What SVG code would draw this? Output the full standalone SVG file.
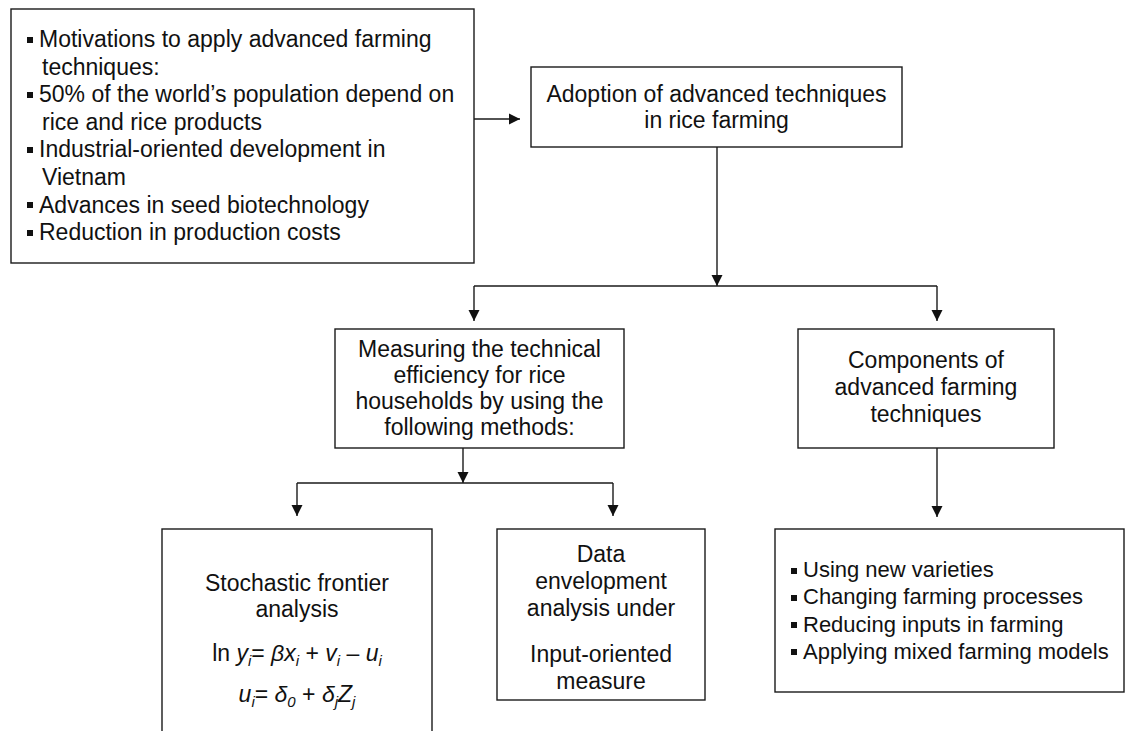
<svg xmlns="http://www.w3.org/2000/svg" width="1132" height="731" viewBox="0 0 1132 731">
<style>
  .box { fill: #ffffff; stroke: #1a1a1a; stroke-width: 1.4; }
  .t { font-family: "Liberation Sans", Arial, sans-serif; font-size: 23px; fill: #111111; }
  .c { text-anchor: middle; }
  .s { font-size: 22px; }
  .i { font-style: italic; }
  .sub { font-size: 15px; font-style: italic; }
  .con { fill: none; stroke: #1a1a1a; stroke-width: 1.4; }
  .blt { fill: #111111; }
</style>
<defs>
  <marker id="ah" markerUnits="userSpaceOnUse" markerWidth="12" markerHeight="12" viewBox="0 0 12 12" refX="11" refY="6" orient="auto">
    <path d="M0,0.5 L11,6 L0,11.5 Z" fill="#111111"/>
  </marker>
</defs>
<rect width="1132" height="731" fill="#ffffff"/>

<g id="motivations">
  <rect class="box" x="11" y="9" width="463" height="254"/>
  <rect class="blt" x="27" y="37" width="6" height="6"/>
  <text class="t" x="39" y="47">Motivations to apply advanced farming</text>
  <text class="t" x="42" y="74.6">techniques:</text>
  <rect class="blt" x="27" y="92" width="6" height="6"/>
  <text class="t" x="39" y="102.2">50% of the world’s population depend on</text>
  <text class="t" x="42" y="129.8">rice and rice products</text>
  <rect class="blt" x="27" y="147" width="6" height="6"/>
  <text class="t" x="39" y="157.4">Industrial-oriented development in</text>
  <text class="t" x="42" y="185">Vietnam</text>
  <rect class="blt" x="27" y="202" width="6" height="6"/>
  <text class="t" x="39" y="212.6">Advances in seed biotechnology</text>
  <rect class="blt" x="27" y="230" width="6" height="6"/>
  <text class="t" x="39" y="240.2">Reduction in production costs</text>
</g>

<g id="adoption">
  <rect class="box" x="531" y="67" width="371" height="80"/>
  <text class="t c" x="716.5" y="102">Adoption of advanced techniques</text>
  <text class="t c" x="716.5" y="128">in rice farming</text>
</g>

<g id="measuring">
  <rect class="box" x="335" y="329" width="289" height="119"/>
  <text class="t c" x="479.5" y="357">Measuring the technical</text>
  <text class="t c" x="479.5" y="383">efficiency for rice</text>
  <text class="t c" x="479.5" y="409">households by using the</text>
  <text class="t c" x="479.5" y="435">following methods:</text>
</g>

<g id="components">
  <rect class="box" x="798" y="329" width="256" height="119"/>
  <text class="t c" x="926" y="368">Components of</text>
  <text class="t c" x="926" y="395">advanced farming</text>
  <text class="t c" x="926" y="422">techniques</text>
</g>

<g id="sfa">
  <rect class="box" x="162" y="529" width="270" height="215"/>
  <text class="t c" x="297" y="591">Stochastic frontier</text>
  <text class="t c" x="297" y="617">analysis</text>
  <text class="t c" x="297" y="661">ln <tspan class="i">y</tspan><tspan class="sub" dy="5">i</tspan><tspan dy="-5">= </tspan><tspan class="i">βx</tspan><tspan class="sub" dy="5">i</tspan><tspan dy="-5"> + </tspan><tspan class="i">v</tspan><tspan class="sub" dy="5">i</tspan><tspan dy="-5"> – </tspan><tspan class="i">u</tspan><tspan class="sub" dy="5">i</tspan></text>
  <text class="t c" x="297" y="702"><tspan class="i">u</tspan><tspan class="sub" dy="5">i</tspan><tspan dy="-5">= </tspan><tspan class="i">δ</tspan><tspan class="sub" dy="5">0</tspan><tspan dy="-5"> + </tspan><tspan class="i">δ</tspan><tspan class="sub" dy="5">j</tspan><tspan class="i" dy="-5">Z</tspan><tspan class="sub" dy="5">j</tspan></text>
</g>

<g id="dea">
  <rect class="box" x="497" y="529" width="208" height="171"/>
  <text class="t c" x="601" y="562">Data</text>
  <text class="t c" x="601" y="589">envelopment</text>
  <text class="t c" x="601" y="616">analysis under</text>
  <text class="t c" x="601" y="662">Input-oriented</text>
  <text class="t c" x="601" y="689">measure</text>
</g>

<g id="component-list">
  <rect class="box" x="775" y="529" width="349" height="163"/>
  <rect class="blt" x="791" y="568" width="6" height="6"/>
  <text class="t s" x="803" y="577">Using new varieties</text>
  <rect class="blt" x="791" y="595" width="6" height="6"/>
  <text class="t s" x="803" y="604">Changing farming processes</text>
  <rect class="blt" x="791" y="622" width="6" height="6"/>
  <text class="t s" x="803" y="631.5">Reducing inputs in farming</text>
  <rect class="blt" x="791" y="649" width="6" height="6"/>
  <text class="t s" x="803" y="659">Applying mixed farming models</text>
</g>

<g id="connectors">
  <path class="con" d="M474,119 H520" marker-end="url(#ah)"/>
  <path class="con" d="M717,147 V286" marker-end="url(#ah)"/>
  <path class="con" d="M474,286 H937"/>
  <path class="con" d="M474,286 V321" marker-end="url(#ah)"/>
  <path class="con" d="M937,286 V321" marker-end="url(#ah)"/>
  <path class="con" d="M463,448 V483" marker-end="url(#ah)"/>
  <path class="con" d="M297,483 H613"/>
  <path class="con" d="M297,483 V516" marker-end="url(#ah)"/>
  <path class="con" d="M613,483 V516" marker-end="url(#ah)"/>
  <path class="con" d="M937,448 V517" marker-end="url(#ah)"/>
</g>
</svg>
